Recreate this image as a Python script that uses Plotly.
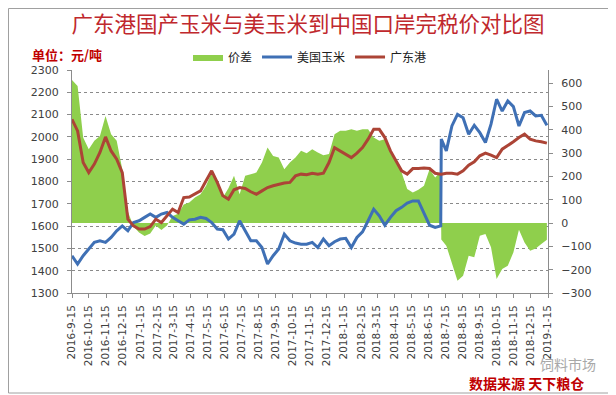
import plotly.graph_objects as go
import pandas as pd

dates = [
    "2016-09-15","2016-09-25","2016-10-05","2016-10-15","2016-10-25","2016-11-04","2016-11-14","2016-11-24",
    "2016-12-04","2016-12-14","2016-12-24","2017-01-03","2017-01-13","2017-01-23","2017-02-02","2017-02-12",
    "2017-02-22","2017-03-04","2017-03-14","2017-03-24","2017-04-03","2017-04-13","2017-04-23","2017-05-03",
    "2017-05-13","2017-05-23","2017-06-02","2017-06-12","2017-06-22","2017-07-02","2017-07-12","2017-07-22",
    "2017-08-01","2017-08-11","2017-08-21","2017-08-31","2017-09-10","2017-09-20","2017-09-30","2017-10-10",
    "2017-10-20","2017-10-30","2017-11-09","2017-11-19","2017-11-29","2017-12-09","2017-12-19","2017-12-29",
    "2018-01-08","2018-01-18","2018-01-28","2018-02-07","2018-02-17","2018-02-27","2018-03-09","2018-03-19",
    "2018-03-29","2018-04-08","2018-04-18","2018-04-28","2018-05-08","2018-05-18","2018-05-28","2018-06-07",
    "2018-06-17","2018-06-27","2018-07-07","2018-07-08","2018-07-17","2018-07-27","2018-08-06","2018-08-16",
    "2018-08-26","2018-09-05","2018-09-15","2018-09-25","2018-10-05","2018-10-15","2018-10-25","2018-11-04",
    "2018-11-14","2018-11-24","2018-12-04","2018-12-14","2018-12-24","2019-01-03","2019-01-13",
]

guangdong = [
    2079, 2027, 1885, 1840, 1878, 1930, 2000, 1937, 1900, 1840, 1631, 1601, 1587, 1587, 1598, 1631,
    1616, 1646, 1676, 1661, 1728, 1730, 1743, 1758, 1803, 1848, 1796, 1736, 1721, 1763, 1773, 1769,
    1754, 1743, 1758, 1773, 1781, 1788, 1793, 1796, 1825, 1833, 1830, 1837, 1833, 1837, 1885, 1952,
    1937, 1922, 1907, 1927, 1952, 1990, 2034, 2034, 1997, 1937, 1893, 1848, 1833, 1858, 1858, 1860,
    1858, 1837, 1833, 1833, 1837, 1837, 1833, 1848, 1873, 1888, 1915, 1927, 1918, 1907, 1945, 1960,
    1978, 1997, 2012, 1990, 1982, 1978, 1972,
]

us_corn = [
    1467, 1430, 1467, 1497, 1527, 1534, 1527, 1549, 1579, 1601, 1579, 1616, 1624, 1639, 1654, 1639,
    1654, 1661, 1639, 1624, 1609, 1628, 1631, 1639, 1634, 1616, 1587, 1584, 1542, 1564, 1624, 1579,
    1534, 1534, 1504, 1430, 1467, 1497, 1564, 1534, 1524, 1519, 1519, 1527, 1504, 1542, 1512, 1530,
    1542, 1545, 1504, 1549, 1574, 1624, 1676, 1646, 1604, 1639, 1669, 1684, 1703, 1713, 1713, 1658,
    1604, 1594, 1601, 1990, 1937, 2049, 2101, 2086, 2012, 2052, 2019, 1975, 2057, 2169, 2116, 2161,
    2136, 2049, 2109, 2116, 2094, 2097, 2052,
]

spread = [
    614, 588, 367, 317, 353, 374, 460, 381, 353, 231, 50, -15, -40, -55, -45, -10,
    -30, -10, 30, 40, 80, 88, 110, 124, 160, 217, 174, 110, 150, 203, 124, 203,
    210, 217, 260, 324, 288, 281, 231, 260, 281, 310, 300, 317, 303, 291, 296, 381,
    396, 396, 403, 396, 403, 403, 367, 353, 360, 303, 267, 217, 146, 131, 143, 160,
    231, 196, 220, -70, -97, -169, -247, -226, -140, -147, -54, -47, -104, -240, -197, -183,
    -126, -29, -83, -119, -109, -90, -72,
]

tick_labels = [
    "2016-9-15","2016-10-15","2016-11-15","2016-12-15","2017-1-15","2017-2-15","2017-3-15","2017-4-15",
    "2017-5-15","2017-6-15","2017-7-15","2017-8-15","2017-9-15","2017-10-15","2017-11-15","2017-12-15",
    "2018-1-15","2018-2-15","2018-3-15","2018-4-15","2018-5-15","2018-6-15","2018-7-15","2018-8-15",
    "2018-9-15","2018-10-15","2018-11-15","2018-12-15","2019-1-15",
]
tick_vals = [pd.Timestamp(s).strftime("%Y-%m-%d") for s in tick_labels]

left_ticks = list(range(1300, 2301, 100))
right_ticks = list(range(-300, 601, 100))

names = ["价差", "美国玉米", "广东港"]

GREEN = "#8FCF4C"
BLUE = "#3F70B5"
RED = "#AC4436"
AXIS = "#8C8C8C"
TXT = "#404040"
FONT = "DejaVu Sans"
CJK = "Noto Sans CJK SC"

# The page places the figure 8px in from the top-left corner,
# so the figure is 8px smaller and all page positions are shifted by 8.
W, H, OFF = 608, 387, 8

fig = go.Figure()
fig.add_trace(go.Scatter(x=dates, y=spread, name=names[0], mode="lines", fill="tozeroy",
                         fillcolor=GREEN, line=dict(color=GREEN, width=0), yaxis="y"))
fig.add_trace(go.Scatter(x=dates, y=us_corn, name=names[1], mode="lines",
                         line=dict(color=BLUE, width=3), yaxis="y2"))
fig.add_trace(go.Scatter(x=dates, y=guangdong, name=names[2], mode="lines",
                         line=dict(color=RED, width=3), yaxis="y2"))

# plot area in page pixels: x 72..548, y 70..293
def px(x):
    return (x - 72) / 476.0

def py(y):
    return (293 - y) / 223.0

fig.update_layout(
    width=W, height=H,
    margin=dict(l=72 - OFF, r=W - (548 - OFF), t=70 - OFF, b=H - (293 - OFF)),
    paper_bgcolor="white", plot_bgcolor="white",
    title=dict(text="广东港国产玉米与美玉米到中国口岸完税价对比图", x=(308 - OFF) / W, xanchor="center",
               y=1 - (24 - OFF) / H, yanchor="middle",
               font=dict(family=CJK, size=21.5, color="#C0282D")),
    showlegend=True,
    legend=dict(orientation="h", x=px(188), y=py(57), xanchor="left", yanchor="middle",
                font=dict(family=CJK, size=12, color="#202020"), bgcolor="rgba(0,0,0,0)",
                itemwidth=30, traceorder="normal", tracegroupgap=0),
    xaxis=dict(type="date", range=["2016-09-15", "2019-01-15"], tickvals=tick_vals, ticktext=tick_labels,
               tickangle=-90, tickfont=dict(family=FONT, size=10.5, color=TXT),
               showline=True, linecolor=AXIS, linewidth=1, ticks="outside", ticklen=4, tickcolor=AXIS,
               showgrid=False, zeroline=False, ticklabelstandoff=3),
    yaxis=dict(side="right", range=[-300, 657], tickvals=right_ticks, showgrid=False, zeroline=False,
               showline=True, linecolor=AXIS, linewidth=1, ticks="outside", ticklen=4, tickcolor=AXIS,
               tickfont=dict(family=FONT, size=11, color=TXT), ticklabelstandoff=6),
    yaxis2=dict(side="left", overlaying="y", range=[1300, 2300], tickvals=left_ticks,
                showgrid=True, gridcolor="#8A8A8A", griddash="dot", gridwidth=1, zeroline=False,
                showline=True, linecolor=AXIS, linewidth=1, ticks="outside", ticklen=4, tickcolor=AXIS,
                tickfont=dict(family=FONT, size=11, color=TXT), ticklabelstandoff=6),
)

# outer frame
fig.add_shape(type="rect", xref="paper", yref="paper", x0=px(OFF + 0.5), x1=px(613), y0=py(393), y1=py(OFF + 0.5),
              line=dict(color="#A0A0A0", width=1), fillcolor="rgba(0,0,0,0)", layer="below")

fig.add_annotation(text="<b>单位：元/吨</b>", xref="paper", yref="paper", x=px(30), y=py(54),
                   xanchor="left", yanchor="middle", showarrow=False,
                   font=dict(family=CJK, size=13, color="#C00000"))
fig.add_annotation(text="饲料市场", xref="paper", yref="paper", x=px(538), y=py(364),
                   xanchor="left", yanchor="middle", showarrow=False,
                   font=dict(family=CJK, size=14, color="#A8A8A8"))
fig.add_annotation(text="<b>数据来源 天下粮仓</b>", xref="paper", yref="paper", x=px(467), y=py(383),
                   xanchor="left", yanchor="middle", showarrow=False,
                   font=dict(family=CJK, size=14, color="#C00000"))

fig.write_html("out.html")
